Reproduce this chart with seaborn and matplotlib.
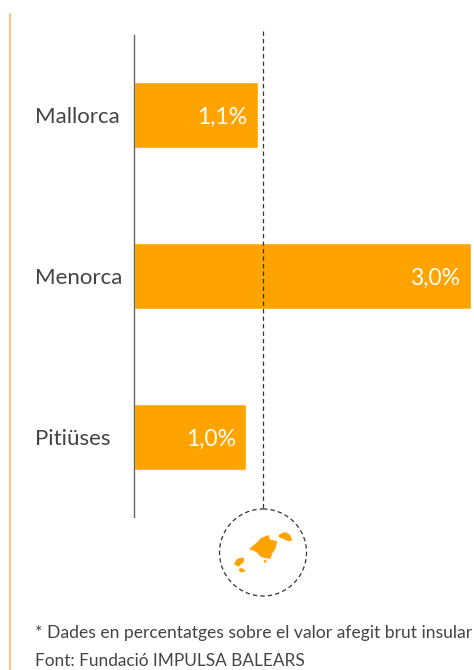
import matplotlib
matplotlib.use("Agg")
import matplotlib.pyplot as plt
import pandas as pd
import seaborn as sns
from matplotlib.lines import Line2D
from matplotlib.patches import Circle, Polygon
from matplotlib.transforms import Affine2D

islands = ["Mallorca", "Menorca", "Pitiüses"]
values = [1.1, 3.0, 1.0]
value_labels = ["1,1%", "3,0%", "1,0%"]
reference_value = 1.15
note = "* Dades en percentatges sobre el valor afegit brut insular"
source = "Font: Fundació IMPULSA BALEARS"

W, H = 474, 670
ORANGE = "#ffa300"
TEXT = "#444444"

sns.set_theme(style="white")
plt.rcParams["font.family"] = ["Lato", "DejaVu Sans"]

fig = plt.figure(figsize=(W / 100, H / 100), dpi=100)
ax = fig.add_axes([134 / W, 1 - 517 / H, 340 / W, 482 / H])
ax.patch.set_alpha(0)

df = pd.DataFrame({"illa": islands, "valor": values})
sns.barplot(data=df, x="valor", y="illa", color=ORANGE, saturation=1, width=0.405, ax=ax)
ax.set_xlim(0, 340 / 112.3)
ax.set_ylim(2.497, -0.497)
ax.set_xlabel("")
ax.set_ylabel("")
ax.set_xticks([])
ax.tick_params(axis="y", length=0, pad=0, labelsize=1, labelcolor="none")
sns.despine(ax=ax, left=False, bottom=True)
ax.spines["left"].set_color("#666666")
ax.spines["left"].set_linewidth(1.0)

for i, (name, v, lab) in enumerate(zip(islands, values, value_labels)):
    ax.annotate(lab, (v, i), xytext=(-7.5, -1.5), textcoords="offset points", ha="right", va="center",
                color="white", fontsize=16.5)
    fig.text(35 / W, 1 - (117 + 161 * i) / H, name, color=TEXT, fontsize=16, ha="left", va="center")

# everything below is placed in pixels from the top left
px = Affine2D().scale(1, -1).translate(0, H)

fig.add_artist(Line2D([9.5, 9.5], [14, H], transform=px, color="#f9b668", lw=1.2))
fig.add_artist(Line2D([263, 263], [31, 509], transform=px, color="#333333", lw=0.9, ls=(0, (3.5, 2.5))))
fig.add_artist(Circle((263, 552.5), 43.5, transform=px, fill=False, ec="#333333", lw=0.9, ls=(0, (3.5, 2.5))))

# small map of the islands
mallorca = [(150, 177), (170, 160), (185, 145), (205, 137), (208, 150), (230, 155), (225, 175),
            (215, 190), (210, 205), (185, 200), (170, 185), (160, 180)]
menorca = [(238, 135), (255, 128), (268, 135), (275, 150), (265, 152), (250, 145), (238, 140)]
eivissa = [(104, 222), (112, 208), (130, 204), (130, 215), (115, 228)]
formentera = [(117, 238), (125, 236), (135, 243), (122, 245)]
cabrera = [(193, 212), (198, 212), (197, 216), (194, 216)]
for shape in [mallorca, menorca, eivissa, formentera, cabrera]:
    pts = [(200 + x / 3, 490 + y / 3) for x, y in shape]
    fig.add_artist(Polygon(pts, closed=True, transform=px, fc=ORANGE, ec=ORANGE, lw=0.8))

fig.text(35 / W, 1 - 633 / H, note, color=TEXT, fontsize=12.65, ha="left", va="center")
fig.text(35 / W, 1 - 661 / H, source, color=TEXT, fontsize=12.4, ha="left", va="center")

fig.savefig("out.png", dpi=100)
plt.close(fig)
